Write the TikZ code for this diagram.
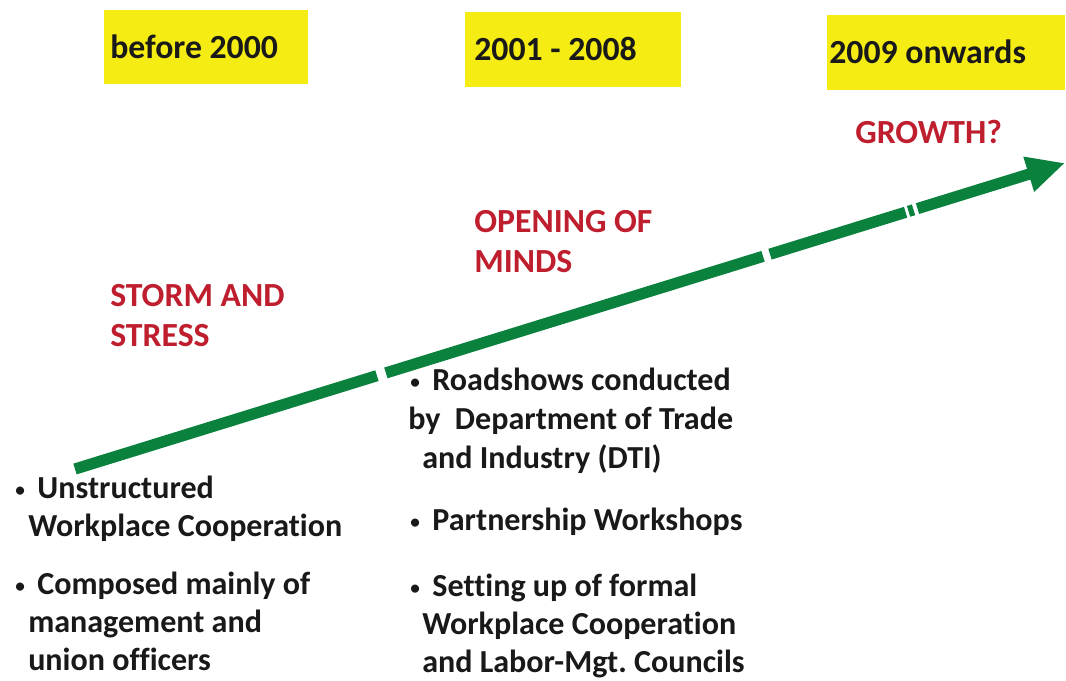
\documentclass[tikz,border=0pt]{standalone}
\usepackage{fontspec}
\setmainfont{Carlito}[Ligatures=NoCommon]
\usepackage{xcolor}
\usetikzlibrary{arrows.meta,calc}

\definecolor{barGreen}{RGB}{10,130,62}
\definecolor{phaseRed}{RGB}{190,30,45}
\definecolor{periodYellow}{RGB}{245,236,20}
\newcommand{\dotmark}{\raisebox{0.12ex}{\scalebox{0.6}{\textbullet}}\ \,}

\begin{document}
\begin{tikzpicture}[
    x=0.025cm, y=-0.025cm,
    period/.style={fill=periodYellow},
    year/.style={font=\fontsize{24}{29}\selectfont\bfseries, text=black!90, anchor=base west, inner sep=0pt},
    phase/.style={font=\fontsize{24}{29}\selectfont\bfseries, text=phaseRed, anchor=base west, inner sep=0pt},
    item/.style={font=\fontsize{22.8}{27}\selectfont\bfseries, text=black!90, anchor=base west, inner sep=0pt},
    bar/.style={draw=barGreen, line width=8pt},
  ]
  \useasboundingbox (0,0) rectangle (1066,680);

  % --- Periods ---
  \fill[period] (104,10) rectangle (308,84);
  \fill[period] (465,12) rectangle (681,87);
  \fill[period] (827,15) rectangle (1065,90);
  \node[year] (y1) at (110,58) {before 2000};
  \node[year] (y2) at (474,60) {2001 - 2008};
  \node[year] (y3) at (829,63) {2009 onwards};

  % --- Phases ---
  \node[phase] (storm)  at (110,306) {STORM AND};
  \node[phase] (stress) at (110,346) {STRESS};
  \node[phase] (open)   at (474,232) {OPENING OF};
  \node[phase] (minds)  at (474,272) {MINDS};
  \node[phase] (growth) at (855,143) {GROWTH?};

  % --- Growth arrow, broken in a few places ---
  \coordinate (start) at (75,469);
  \coordinate (tip) at (1065,163);
  \foreach \a/\b in {0/0.305, 0.314/0.695, 0.702/0.839, 0.842/0.847} {
    \draw[bar] ($(start)!\a!(tip)$) -- ($(start)!\b!(tip)$);
  }
  \draw[bar, -{Triangle[length=0.95cm, width=0.85cm]}] ($(start)!0.851!(tip)$) -- (tip);

  % --- Before 2000 ---
  \node[item] (a1) at (15,498) {\dotmark Unstructured};
  \node[item] (a2) at (28,536) {Workplace Cooperation};
  \node[item] (b1) at (15,594) {\dotmark Composed mainly of};
  \node[item] (b2) at (28,632) {management and};
  \node[item] (b3) at (28,670) {union officers};

  % --- 2001 - 2008 ---
  \node[item] (c1) at (410,390) {\dotmark Roadshows conducted};
  \node[item] (c2) at (408,429) {by\ \ Department of Trade};
  \node[item] (c3) at (422,468) {and Industry (DTI)};
  \node[item] (d1) at (410,530) {\dotmark Partnership Workshops};
  \node[item] (e1) at (410,596) {\dotmark Setting up of formal};
  \node[item] (e2) at (422,634) {Workplace Cooperation};
  \node[item] (e3) at (422,672) {and Labor-Mgt.\ Councils};
\end{tikzpicture}
\end{document}
